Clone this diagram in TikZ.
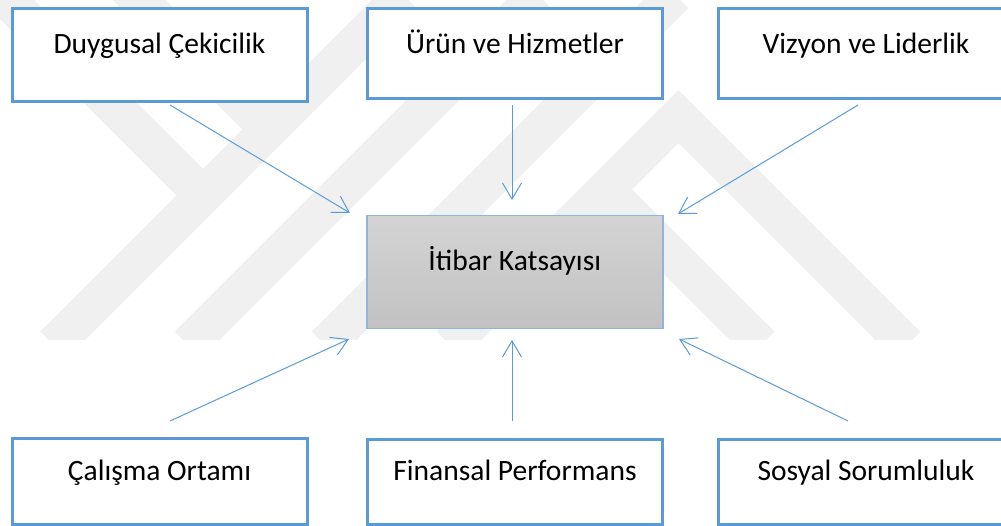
\documentclass[tikz,border=0pt]{standalone}
\usepackage{fontspec}
\setmainfont{Carlito}
\usetikzlibrary{arrows.meta}

\definecolor{boxblue}{HTML}{5B9BD5}
\definecolor{frameblue}{HTML}{8EB4E3}
\definecolor{wmark}{HTML}{F0F0F0}

\tikzset{
  factor/.style={draw=boxblue, line width=3pt, fill=white, anchor=north west,
    inner sep=0pt, minimum width=295pt, font=\fontsize{29.5}{34}\selectfont},
  core/.style={draw=frameblue, line width=1.5pt, top color=black!17,
    bottom color=black!24, anchor=north west, inner sep=0pt,
    minimum width=296pt, font=\fontsize{29.5}{34}\selectfont},
  band/.style={wmark, line width=37.5pt, line cap=butt},
  link/.style={draw=boxblue, line width=1pt,
    -{Straight Barb[length=16pt,width=19pt]}}
}

\begin{document}
\begin{tikzpicture}[x=1pt,y=-1pt]
  \useasboundingbox (0,0) rectangle (1001,526);

  % watermark
  \begin{scope}
    \clip (0,0) rectangle (1001,340);
    \draw[band] (53.5,345) -- (403.5,-5);
    \draw[band] (210,202.5) -- (-20,-27.5);
    \draw[band] (276,136.5) -- (120,-19);
    \draw[band] (188,345) -- (538,-5);
    \draw[band] (325,345) -- (675,-5);
    \draw[band, line join=miter] (450,345) -- (678.5,116.5) -- (907,345);
    \draw[band] (596,180) -- (761.5,345);
  \end{scope}

  \node[factor, text height=45pt, text depth=48pt] (emo) at (10.5,7) {Duygusal Çekicilik};
  \node[factor, text height=45pt, text depth=45pt] (urun) at (366,7) {Ürün ve Hizmetler};
  \node[factor, text height=45pt, text depth=45pt] (vizyon) at (717,7) {Vizyon ve Liderlik};
  \node[core, text height=55pt, text depth=58pt] (itibar) at (366,215) {İtibar Katsayısı};
  \node[factor, text height=42pt, text depth=44pt] (calisma) at (10.5,437) {Çalışma Ortamı};
  \node[factor, text height=41pt, text depth=44pt] (finans) at (366,438) {Finansal Performans};
  \node[factor, text height=41pt, text depth=44pt] (sosyal) at (717,438) {Sosyal Sorumluluk};

  \coordinate (emo-out) at (170,105);
  \coordinate (emo-in) at (350,213);
  \coordinate (urun-out) at (512,105);
  \coordinate (urun-in) at (512,200);
  \coordinate (vizyon-out) at (858,105);
  \coordinate (vizyon-in) at (678,214);
  \coordinate (calisma-out) at (170,421);
  \coordinate (calisma-in) at (349,339);
  \coordinate (finans-out) at (512,421);
  \coordinate (finans-in) at (512,340);
  \coordinate (sosyal-out) at (848,421);
  \coordinate (sosyal-in) at (679,339);

  \foreach \f in {emo,urun,vizyon,calisma,finans,sosyal}
    \draw[link] (\f-out) -- (\f-in);
\end{tikzpicture}
\end{document}
